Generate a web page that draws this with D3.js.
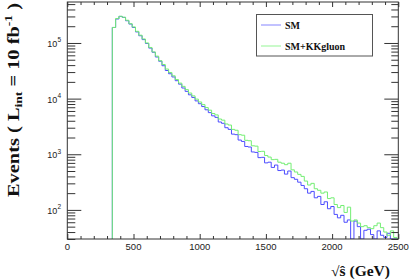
<!DOCTYPE html>
<html><head><meta charset="utf-8">
<script src="https://cdn.jsdelivr.net/npm/d3@7"></script>
<style>html,body{margin:0;padding:0;background:#fff;overflow:hidden}</style>
</head><body>
<svg id="c" width="409" height="279"></svg>
<script>
// ---- data ----
const binStart = 340;   // GeV, low edge of first bin
const binWidth = 25;    // GeV
const seriesNames = ["SM", "SM+KKgluon"];
const smValues = [190000,270000,300000,288000,251000,219000,190000,158000,135000,115000,
98000,81000,68000,56000,47000,39000,32000,28000,24500,21000,
18200,15500,13500,11700,10500,9100,8100,7200,6300,5600,
4900,4600,3800,3600,3000,2800,2300,2250,1800,1700,
1380,1350,1100,1080,870,880,700,720,580,640,
510,520,440,500,380,355,315,275,240,200,
215,165,175,125,140,105,115,83,72,80,
60,66,0,63,50,0,43,45,36,0,
42,35,32,38,30,0,0];
const kkValues = [190000,275000,302000,290000,256000,222000,194000,162000,138000,118000,
100000,83000,69000,58000,48000,41000,34000,29500,25700,22000,
19000,16600,14500,12600,11200,9800,8700,7800,6900,6200,
5400,5100,4300,4100,3500,3350,2800,2700,2250,2200,
1780,1750,1420,1400,1120,1130,950,890,800,810,
720,690,650,690,525,480,435,400,330,280,
300,240,225,200,210,160,165,125,110,120,
90,112,63,66,58,50,52,48,46,52,
58,48,40,35,42,32,0];
const xTickLabels = ["0","500","1000","1500","2000","2500"];
const yDecades = [2,3,4,5];

// ---- layout ----
const L = 67.3, R = 398.3, T = 2, B = 239;
const svg = d3.select("#c");
const x = d3.scaleLinear().domain([0, 2500]).range([L, R]);
const y = d3.scaleLog().domain([30, 5.45e5]).range([B, T]);
const axisCol = "#333";

svg.append("clipPath").attr("id","clip").append("rect")
  .attr("x",L).attr("y",T).attr("width",R-L).attr("height",B-T);

function stepPath(vals){
  const pts = [[binStart, null]];
  vals.forEach((v,i)=>{
    const lo = binStart + i*binWidth, hi = lo + binWidth;
    pts.push([lo, v]); pts.push([hi, v]);
  });
  const yy = v => (v === null || v < y.domain()[0]) ? B : y(v);
  return d3.line().x(d=>x(d[0])).y(d=>yy(d[1]))(pts);
}

const g = svg.append("g").attr("clip-path","url(#clip)");
g.append("path").attr("d", stepPath(smValues)).attr("fill","none")
  .attr("stroke","#4d4dff").attr("stroke-width",1);
g.append("path").attr("d", stepPath(kkValues)).attr("fill","none")
  .attr("stroke","#74ee74").attr("stroke-width",1);

// ---- axes ----
function styleAxis(sel){
  sel.selectAll(".domain").remove();
  sel.selectAll("line").attr("stroke",axisCol);
  sel.selectAll("text").remove();
}
const xMajor = xTickLabels.map(Number);
const xMinor = d3.range(0, 2501, 100).filter(v => v % 500 !== 0);
svg.append("g").attr("transform",`translate(0,${B})`)
  .call(d3.axisBottom(x).tickValues(xMajor).tickSize(-5)).call(styleAxis);
svg.append("g").attr("transform",`translate(0,${B})`)
  .call(d3.axisBottom(x).tickValues(xMinor).tickSize(-3)).call(styleAxis);
svg.append("g").attr("transform",`translate(0,${T})`)
  .call(d3.axisTop(x).tickValues(xMajor).tickSize(-5)).call(styleAxis);
svg.append("g").attr("transform",`translate(0,${T})`)
  .call(d3.axisTop(x).tickValues(xMinor).tickSize(-3)).call(styleAxis);
svg.append("g").selectAll("text").data(xTickLabels).join("text")
  .attr("x", d => x(+d)).attr("y", 249.5).attr("text-anchor","middle")
  .attr("font-family","'Liberation Sans', Arial, sans-serif").attr("font-size",9.5)
  .attr("fill","#222").text(d => d);

const yMajor = yDecades.map(p => Math.pow(10,p));
const yMinor = [];
for (let p = 1; p <= 5; p++) for (let m = 2; m <= 9; m++) {
  const v = m*Math.pow(10,p);
  if (v >= 30 && v <= 5.45e5) yMinor.push(v);
}
svg.append("g").attr("transform",`translate(${L},0)`)
  .call(d3.axisLeft(y).tickValues(yMajor).tickSize(-14)).call(styleAxis);
svg.append("g").attr("transform",`translate(${L},0)`)
  .call(d3.axisLeft(y).tickValues(yMinor).tickSize(-8)).call(styleAxis);
svg.append("g").attr("transform",`translate(${R},0)`)
  .call(d3.axisRight(y).tickValues(yMajor).tickSize(-14)).call(styleAxis);
svg.append("g").attr("transform",`translate(${R},0)`)
  .call(d3.axisRight(y).tickValues(yMinor).tickSize(-7)).call(styleAxis);

const yl = svg.append("g").selectAll("text").data(yDecades).join("text")
  .attr("x", 61).attr("y", d => y(Math.pow(10,d)) + 4)
  .attr("text-anchor","end")
  .attr("font-family","'Liberation Sans', Arial, sans-serif").attr("font-size",9)
  .attr("fill","#222");
yl.append("tspan").text("10");
yl.append("tspan").attr("dy",-4.5).attr("font-size",6.5).text(d => d);

svg.append("rect").attr("x",L).attr("y",T).attr("width",R-L).attr("height",B-T)
  .attr("fill","none").attr("stroke",axisCol).attr("stroke-width",1);

// legend
const lg = svg.append("g");
lg.append("rect").attr("x",256.5).attr("y",14.5).attr("width",116).attr("height",41.5)
  .attr("fill","#fff").attr("stroke","#555").attr("stroke-width",1);
const legColors = ["#9a9aff","#a6f7a6"];
seriesNames.forEach((s,i)=>{
  const yy = 25 + i*21;
  lg.append("line").attr("x1",261).attr("x2",281).attr("y1",yy).attr("y2",yy)
    .attr("stroke",legColors[i]).attr("stroke-width",1.2);
  lg.append("text").attr("x",285).attr("y",yy+3.5)
    .attr("font-family","'Liberation Serif','Times New Roman',serif")
    .attr("font-weight","bold").attr("font-size",10).attr("fill","#111").text(s);
});

// axis titles
const fam = "'Liberation Serif','Times New Roman',serif";
svg.append("text").attr("x",331).attr("y",275.5)
  .attr("font-family",fam).attr("font-weight","bold").attr("font-size",14)
  .attr("textLength",59).attr("lengthAdjust","spacingAndGlyphs")
  .attr("fill","#111").text("\u221A\u015D (GeV)");

const yt = svg.append("text").attr("transform","translate(18.5,197) rotate(-90)")
  .attr("font-family",fam).attr("font-weight","bold")
  .attr("font-size",16.5).attr("fill","#111")
  .attr("textLength",194).attr("lengthAdjust","spacingAndGlyphs");
yt.append("tspan").text("Events ( L");
yt.append("tspan").attr("dy",3.5).attr("font-size",11).text("int");
yt.append("tspan").attr("dy",-3.5).text(" = 10 fb");
yt.append("tspan").attr("dy",-6.5).attr("font-size",11).text("-1");
yt.append("tspan").attr("dy",6.5).text(" )");
</script>
</body></html>
